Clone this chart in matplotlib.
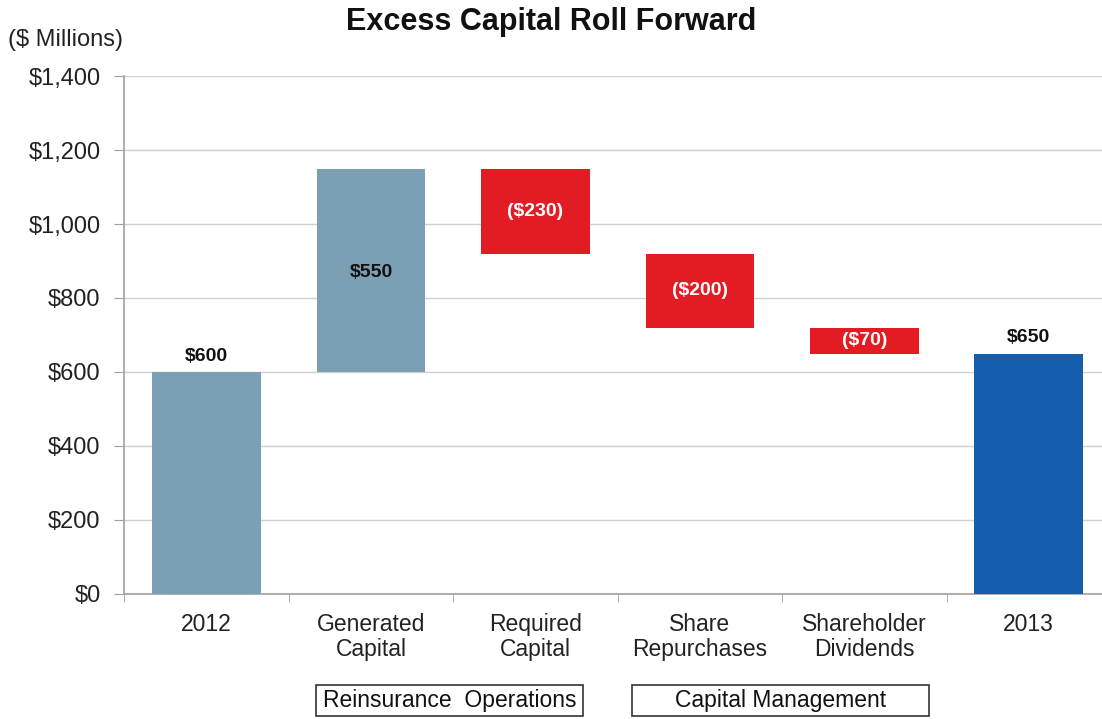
import matplotlib
matplotlib.use("Agg")
import matplotlib.pyplot as plt
from matplotlib.patches import Rectangle
import numpy as np

plt.rcParams['font.family'] = ['Liberation Sans', 'DejaVu Sans']

categories = ["2012", "Generated\nCapital", "Required\nCapital", "Share\nRepurchases",
              "Shareholder\nDividends", "2013"]
changes = [600, 550, -230, -200, -70, 650]
kinds = ["total", "delta", "delta", "delta", "delta", "total"]
value_labels = ["$600", "$550", "($230)", "($200)", "($70)", "$650"]
yticks = [0, 200, 400, 600, 800, 1000, 1200, 1400]
ytick_labels = ["$0", "$200", "$400", "$600", "$800", "$1,000", "$1,200", "$1,400"]
group_labels = ["Reinsurance  Operations", "Capital Management"]

c_light = "#7BA0B4"
c_red = "#E31B23"
c_blue = "#155EAD"

W, H = 1102, 719
fig = plt.figure(figsize=(W / 100, H / 100), dpi=100)
ax = fig.add_axes([124.25 / W, 1 - 594 / H, (1111 - 124.25) / W, (594 - 76) / H])

x = np.arange(len(categories))
bottoms, heights, colors = [], [], []
running = 0
for i, (c, k) in enumerate(zip(changes, kinds)):
    if k == "total":
        bottoms.append(0); heights.append(c); running = c
        colors.append(c_light if i == 0 else c_blue)
    else:
        if c >= 0:
            bottoms.append(running); heights.append(c); colors.append(c_light)
        else:
            bottoms.append(running + c); heights.append(-c); colors.append(c_red)
        running += c

ax.bar(x, heights, bottom=bottoms, width=0.66, color=colors, zorder=3)

for i in range(len(categories)):
    if kinds[i] == "total":
        ax.text(x[i], bottoms[i] + heights[i] + 20, value_labels[i], ha="center", va="bottom",
                fontsize=14, fontweight="bold", color="#111111", zorder=4)
    else:
        col = "#111111" if changes[i] >= 0 else "white"
        ax.text(x[i], bottoms[i] + heights[i] / 2 - (5 if changes[i] > 0 else 0), value_labels[i],
                ha="center", va="center", fontsize=14, fontweight="bold", color=col, zorder=4)

ax.set_xlim(-0.5, len(categories) - 0.5)
ax.set_ylim(0, 1400)
ax.set_yticks(yticks)
ax.set_yticklabels(ytick_labels, fontsize=17, color="#222222")
ax.yaxis.grid(True, color="#D0D0D0", linewidth=1, zorder=0)
ax.set_axisbelow(True)

ax.set_xticks(x)
ax.set_xticklabels(categories, fontsize=16.5, color="#222222", linespacing=1.1)
ax.tick_params(axis="x", length=0, pad=14)
ax.set_xticks(np.arange(-0.5, len(categories), 1.0), minor=True)
ax.tick_params(axis="x", which="minor", length=6, color="#A0A0A0", direction="out")
ax.tick_params(axis="y", length=7, color="#A0A0A0", pad=10)

for s in ["top", "right"]:
    ax.spines[s].set_visible(False)
for s in ["left", "bottom"]:
    ax.spines[s].set_color("#A0A0A0")
    ax.spines[s].set_linewidth(1.2)

fig.text(551 / W, 1 - 22 / H, "Excess Capital Roll Forward", ha="center", va="center",
         fontsize=22, fontweight="bold", color="#111111")
fig.text(66 / W, 1 - 40 / H, "($ Millions)", ha="center", va="center", fontsize=17, color="#222222")

boxes = [(316, 583), (632, 929)]
for (x0, x1), lab in zip(boxes, group_labels):
    fig.patches.append(Rectangle((x0 / W, 1 - 716 / H), (x1 - x0) / W, 31 / H,
                                 transform=fig.transFigure, fill=False, edgecolor="#333333",
                                 linewidth=1.2))
    fig.text((x0 + x1) / 2 / W, 1 - 701 / H, lab, ha="center", va="center", fontsize=16.5,
             color="#111111")

fig.savefig("out.png", dpi=100)
